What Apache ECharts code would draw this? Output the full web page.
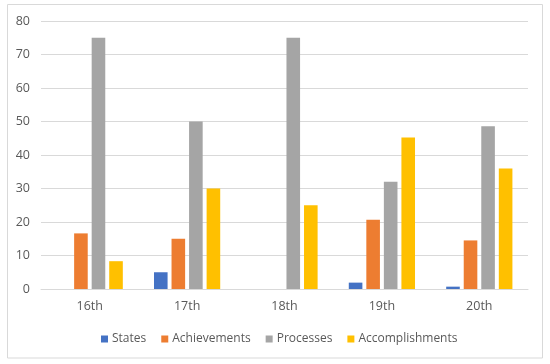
<!DOCTYPE html>
<html><head><meta charset="utf-8">
<script src="https://cdn.jsdelivr.net/npm/echarts@6/dist/echarts.min.js"></script>
<style>html,body{margin:0;padding:0;background:#fff}#c{width:550px;height:364px}</style>
</head><body><div id="c"></div>
<script>
var categories = ['16th','17th','18th','19th','20th'];
var states = [0, 5, 0, 1.9, 0.7];
var achievements = [16.6, 15, 0, 20.7, 14.5];
var processes = [75, 50, 75, 32, 48.6];
var accomplishments = [8.3, 30, 25, 45.2, 36];
var yTicks = {min: 0, max: 80, interval: 10};

var chart = echarts.init(document.getElementById('c'), null, {renderer: 'canvas'});
var font = 'Open Sans';
function s(name, data, color) {
  return {name: name, type: 'bar', data: data, barWidth: 13.6, barGap: '29%',
    itemStyle: {color: color}, silent: true};
}
chart.setOption({
  animation: false,
  textStyle: {fontFamily: font},
  graphic: [{type: 'rect', shape: {x: 7.5, y: 4.5, width: 535, height: 353.5},
    style: {fill: 'none', stroke: '#d9d9d9', lineWidth: 1}, z: -1}],
  grid: {left: 41, right: 22, top: 21, bottom: 75, containLabel: false},
  legend: {left: 96, top: 328, itemWidth: 7, itemHeight: 7, itemGap: 15, icon: 'rect',
    textStyle: {color: '#595959', fontSize: 12, fontFamily: font, padding: [0, 0, 0, -1]},
    data: ['States','Achievements','Processes','Accomplishments']},
  xAxis: {type: 'category', data: categories,
    axisLine: {lineStyle: {color: '#d9d9d9'}}, axisTick: {show: false},
    axisLabel: {color: '#595959', fontSize: 12.5, margin: 11}},
  yAxis: {type: 'value', min: yTicks.min, max: yTicks.max, interval: yTicks.interval,
    axisLine: {show: false}, axisTick: {show: false},
    splitLine: {lineStyle: {color: '#d9d9d9'}},
    axisLabel: {color: '#595959', fontSize: 12.5, margin: 11}},
  series: [
    s('States', states, '#4472C4'),
    s('Achievements', achievements, '#ED7D31'),
    s('Processes', processes, '#A5A5A5'),
    s('Accomplishments', accomplishments, '#FFC000')
  ]
});
</script></body></html>
